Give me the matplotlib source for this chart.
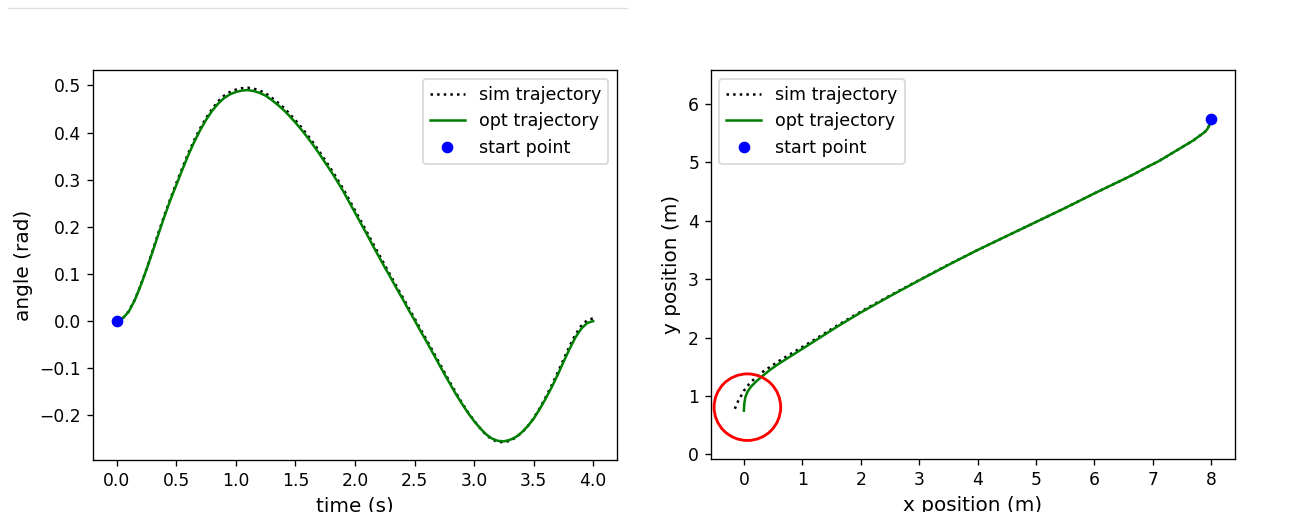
import matplotlib
matplotlib.use("Agg")
import matplotlib.pyplot as plt
from matplotlib.lines import Line2D
from matplotlib.patches import Circle

# ---- data: angle vs time ----
time_s = [0.00, 0.05, 0.10, 0.15, 0.20, 0.25, 0.30, 0.35, 0.40, 0.45,
          0.50, 0.55, 0.60, 0.65, 0.70, 0.75, 0.80, 0.85, 0.90, 0.95,
          1.00, 1.05, 1.10, 1.15, 1.20, 1.25, 1.30, 1.35, 1.40, 1.45,
          1.50, 1.55, 1.60, 1.65, 1.70, 1.75, 1.80, 1.85, 1.90, 1.95,
          2.00, 2.05, 2.10, 2.15, 2.20, 2.25, 2.30, 2.35, 2.40, 2.45,
          2.50, 2.55, 2.60, 2.65, 2.70, 2.75, 2.80, 2.85, 2.90, 2.95,
          3.00, 3.05, 3.10, 3.15, 3.20, 3.25, 3.30, 3.35, 3.40, 3.45,
          3.50, 3.55, 3.60, 3.65, 3.70, 3.75, 3.80, 3.85, 3.90, 3.95, 4.00]
angle_opt = [0.000, 0.006, 0.020, 0.044, 0.075, 0.110, 0.147, 0.185, 0.222, 0.257,
             0.289, 0.321, 0.352, 0.380, 0.405, 0.427, 0.446, 0.461, 0.473, 0.481,
             0.486, 0.489, 0.490, 0.488, 0.484, 0.478, 0.469, 0.459, 0.448, 0.435,
             0.421, 0.406, 0.390, 0.373, 0.355, 0.336, 0.317, 0.297, 0.276, 0.253,
             0.230, 0.207, 0.184, 0.160, 0.137, 0.114, 0.092, 0.069, 0.047, 0.024,
             0.002, -0.021, -0.043, -0.066, -0.089, -0.112, -0.134, -0.156, -0.176, -0.195,
             -0.212, -0.227, -0.240, -0.249, -0.254, -0.255, -0.252, -0.246, -0.236, -0.223,
             -0.207, -0.187, -0.165, -0.141, -0.115, -0.087, -0.060, -0.035, -0.016, -0.004, 0.000]
angle_sim = [0.000, 0.006, 0.021, 0.045, 0.076, 0.111, 0.149, 0.188, 0.225, 0.260,
             0.293, 0.325, 0.356, 0.384, 0.409, 0.431, 0.450, 0.466, 0.478, 0.486,
             0.491, 0.494, 0.495, 0.493, 0.489, 0.483, 0.474, 0.464, 0.453, 0.440,
             0.426, 0.411, 0.395, 0.378, 0.360, 0.341, 0.322, 0.302, 0.281, 0.258,
             0.235, 0.212, 0.189, 0.165, 0.142, 0.119, 0.096, 0.073, 0.051, 0.028,
             0.006, -0.017, -0.039, -0.062, -0.085, -0.108, -0.131, -0.153, -0.174, -0.194,
             -0.211, -0.227, -0.241, -0.251, -0.256, -0.257, -0.254, -0.247, -0.237, -0.223,
             -0.206, -0.185, -0.162, -0.137, -0.110, -0.082, -0.054, -0.029, -0.010, 0.002, 0.006]

# ---- data: x-y path ----
x_opt = [8.00, 7.99, 7.97, 7.94, 7.90, 7.85, 7.78, 7.70, 7.60, 7.50, 7.40, 7.25,
         7.10, 6.90, 6.70, 6.50, 6.25, 6.00, 5.50, 5.00, 4.50, 4.00, 3.50, 3.00,
         2.50, 2.00, 1.60, 1.20, 0.90, 0.60, 0.45, 0.30, 0.20, 0.12, 0.06, 0.025,
         0.008, 0.00]
y_opt = [5.75, 5.70, 5.64, 5.58, 5.53, 5.49, 5.44, 5.38, 5.32, 5.26, 5.20, 5.11,
         5.02, 4.92, 4.81, 4.71, 4.59, 4.47, 4.22, 3.98, 3.74, 3.50, 3.245, 2.98,
         2.71, 2.43, 2.19, 1.935, 1.745, 1.555, 1.45, 1.33, 1.24, 1.16, 1.07, 0.98,
         0.88, 0.75]
x_sim = [8.00, 7.99, 7.97, 7.94, 7.90, 7.85, 7.78, 7.70, 7.60, 7.50, 7.40, 7.25,
         7.10, 6.90, 6.70, 6.50, 6.25, 6.00, 5.50, 5.00, 4.50, 4.00, 3.50, 3.00,
         2.50, 2.00, 1.60, 1.20, 0.90, 0.60, 0.45, 0.30, 0.23, 0.11, 0.05, 0.00,
         -0.05, -0.10, -0.13, -0.16]
y_sim = [5.75, 5.70, 5.64, 5.58, 5.53, 5.49, 5.44, 5.38, 5.32, 5.26, 5.20, 5.11,
         5.02, 4.92, 4.81, 4.71, 4.59, 4.47, 4.22, 3.98, 3.74, 3.50, 3.25, 2.985,
         2.72, 2.445, 2.21, 1.96, 1.78, 1.60, 1.50, 1.40, 1.34, 1.23, 1.16, 1.09,
         1.00, 0.91, 0.84, 0.77]

legend_labels = ["sim trajectory", "opt trajectory", "start point"]

fig = plt.figure(figsize=(1292 / 120, 512 / 120), dpi=120)

# notebook separator line at top
fig.add_artist(Line2D([8 / 1292, 627 / 1292], [1 - 8 / 512, 1 - 8 / 512],
                      color="#e0e0e0", lw=0.8))

ax1 = fig.add_axes([93 / 1292, (512 - 460) / 512, 524 / 1292, 390 / 512])
ax1.plot(time_s, angle_sim, "k:", label=legend_labels[0])
ax1.plot(time_s, angle_opt, "g-", label=legend_labels[1])
ax1.plot(time_s[0], angle_opt[0], "bo", label=legend_labels[2])
ax1.set_xlabel("time (s)", fontsize=12)
ax1.set_ylabel("angle (rad)", fontsize=12)
ax1.tick_params(labelsize=10.3)
ax1.legend(loc="upper right", fontsize=10.5)

ax2 = fig.add_axes([710.7 / 1292, (512 - 459.3) / 512, 524.3 / 1292, 389.3 / 512])
ax2.plot(x_sim, y_sim, "k:", label=legend_labels[0])
ax2.plot(x_opt, y_opt, "g-", label=legend_labels[1])
ax2.plot(x_opt[0], y_opt[0], "bo", label=legend_labels[2])
ax2.set_aspect("equal", adjustable="datalim")
ax2.set_xlabel("x position (m)", fontsize=12)
ax2.set_ylabel("y position (m)", fontsize=12)
ax2.tick_params(labelsize=10.3)
ax2.legend(loc="upper left", fontsize=10.5)
ring = Circle((0.06, 0.81), 0.57, fill=False, edgecolor="red", lw=1.7, zorder=5)
ring.set_transform(ax2.transData)
ax2.add_artist(ring)

fig.savefig("out.png", dpi=120)
